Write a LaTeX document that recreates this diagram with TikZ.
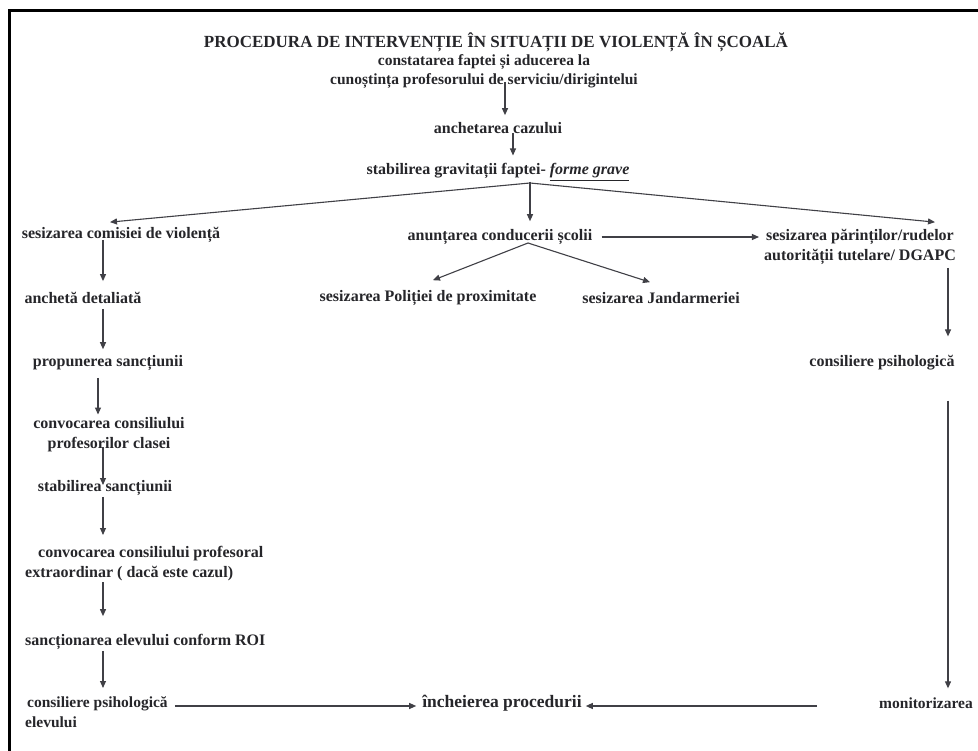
\documentclass[tikz,border=0pt]{standalone}
\usepackage{fontspec}
\setmainfont{Liberation Serif}
\usetikzlibrary{arrows.meta,calc}
\definecolor{txt}{HTML}{26262A}
\definecolor{ln}{HTML}{404046}
\begin{document}
\begin{tikzpicture}[x=1pt,y=-1pt,
  lbl/.style={font=\fontsize{16}{20}\selectfont\bfseries, text=txt, inner sep=1pt},
  arr/.style={draw=ln, line width=1.1pt, -{Triangle[length=7pt,width=6pt]}},
  plain/.style={draw=ln, line width=1.1pt}]
\useasboundingbox (0,0) rectangle (978,751);
\fill[white] (0,0) rectangle (978,751);
% frame
\draw[line width=3pt, black] (9,751) -- (9,11) -- (978,11);

% nodes
\node[lbl, font=\fontsize{17}{20}\selectfont\bfseries] (title) at (496,42) {PROCEDURA DE INTERVENȚIE ÎN SITUAȚII DE VIOLENȚĂ ÎN ȘCOALĂ};
\node[lbl, align=center, font=\fontsize{15.5}{19}\selectfont\bfseries] (con) at (484,72) {constatarea faptei și aducerea la\\cunoștința profesorului de serviciu/dirigintelui};
\node[lbl] (anch) at (498,128) {anchetarea cazului};
\node[lbl] (stab) at (498,172) {stabilirea gravitații faptei- \underline{\textit{forme grave}}};
\node[lbl] (anun) at (500,237) {anunțarea conducerii școlii};
\node[lbl] (pol) at (428,298) {sesizarea Poliției de proximitate};
\node[lbl] (jan) at (661,298) {sesizarea Jandarmeriei};
\node[lbl, align=center] (par) at (860,247) {sesizarea părinților/rudelor\\autorității tutelare/ DGAPC};
\node[lbl] (consR) at (882,363) {consiliere psihologică};
\node[lbl, font=\fontsize{15.5}{19}\selectfont\bfseries] (mon) at (926,703) {monitorizarea};
\node[lbl, font=\fontsize{17.5}{20}\selectfont\bfseries] (inch) at (502,703) {încheierea procedurii};

\node[lbl] (sesC) at (121,235) {sesizarea comisiei de violență};
\node[lbl] (anchd) at (83,298) {anchetă detaliată};
\node[lbl] (prop) at (108,363) {propunerea sancțiunii};
\node[lbl, align=center] (conv) at (109,435) {convocarea consiliului\\profesorilor clasei};
\node[lbl] (stabS) at (105,488) {stabilirea sancțiunii};
\node[lbl, align=left, anchor=north west] (convP) at (24,545) {\hspace*{13pt}convocarea consiliului profesoral\\extraordinar ( dacă este cazul)};
\node[lbl, anchor=west] (sanc) at (24,642) {sancționarea elevului conform ROI};
\node[lbl, align=left, anchor=north west, font=\fontsize{15.5}{20}\selectfont\bfseries] (consL) at (24,695) {\hspace*{2pt}consiliere psihologică\\elevului};

% connectors - centre column
\coordinate (apex) at (530,183);
\draw[arr] ($(con.south)+(21,-8)$) -- ($(anch.north)+(7,-6)$);
\draw[arr] ($(anch.center)+(15,5)$) -- ($(stab.north)+(15,-7)$);
\draw[plain] ($(stab.south)+(32,0)$) -- (apex);
\draw[arr] (apex) -- ($(sesC.north)+(-11,-4)$);
\draw[arr] (apex) -- ($(par.north)+(75,-6)$);
\draw[arr] (apex) -- ($(anun.north)+(30,-7)$);
\draw[arr] ($(anun.center)+(28,6)$) -- ($(pol.north)+(5,-9)$);
\draw[arr] ($(anun.center)+(28,6)$) -- ($(jan.north)+(-11,-9)$);
\draw[arr] ($(anun.east)+(8,0)$) -- ($(anun.east -| par.west)+(-4,0)$);
% right column
\draw[arr] ($(par.south)+(88,2)$) -- ($(consR.north)+(66,-18)$);
\draw[arr] ($(consR.south)+(66,29)$) -- ($(mon.north)+(22,-8)$);
\draw[arr] ($(mon.west)+(-61,3)$) -- ($(inch.east)+(3,3)$);
% left column
\draw[arr] ($(sesC.center)+(-18,5)$) -- ($(anchd.north)+(20,-10)$);
\draw[arr] ($(anchd.south)+(20,4)$) -- ($(prop.north)+(-5,-5)$);
\draw[arr] ($(prop.south)+(-10,6)$) -- ($(conv.north)+(-11,-2)$);
\draw[arr] ($(conv.center)+(-6,12)$) -- ($(stabS.center)+(-2,-3)$);
\draw[arr] ($(stabS.south)+(-2,0)$) -- ($(convP.north west)+(79,-10)$);
\draw[arr] ($(convP.south west)+(79,0)$) -- ($(sanc.north west)+(79,-17)$);
\draw[arr] ($(sanc.south west)+(79,0)$) -- ($(consL.north west)+(79,-7)$);
\draw[arr] ($(consL.north east)+(6,11)$) -- ($(inch.west)+(-5,3)$);
\end{tikzpicture}
\end{document}
